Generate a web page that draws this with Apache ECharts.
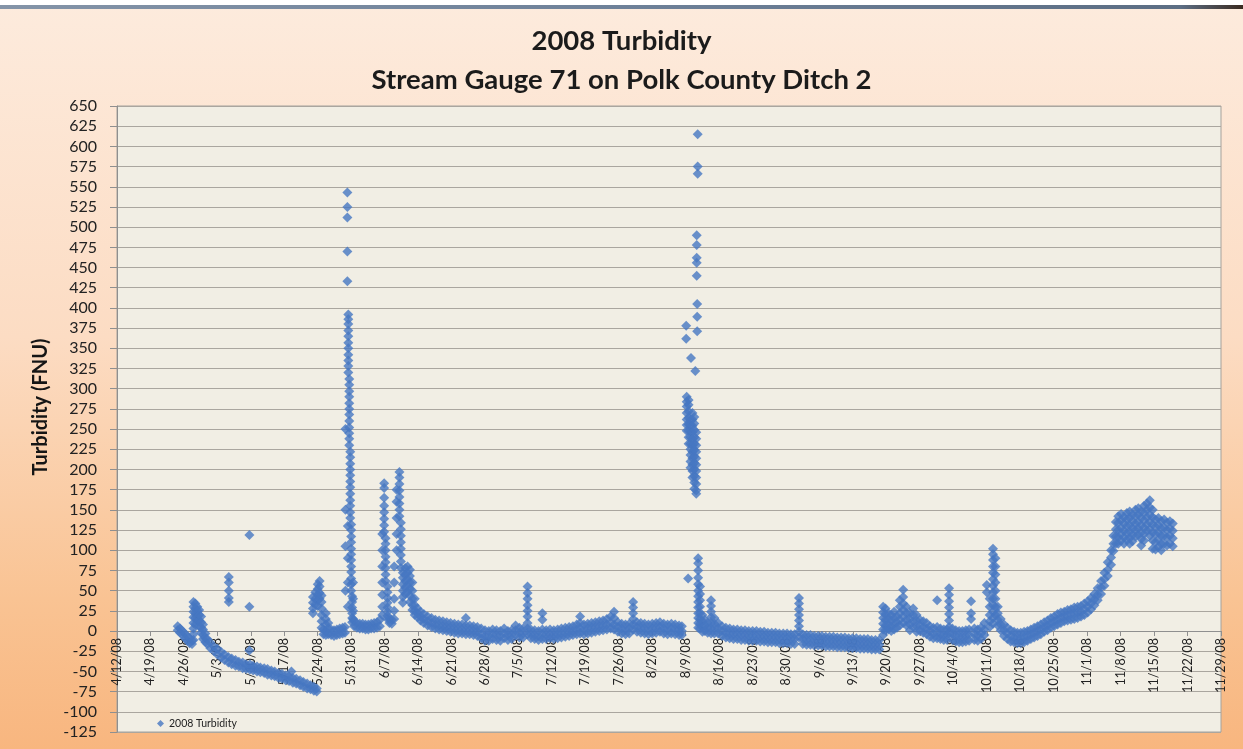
<!DOCTYPE html>
<html>
<head>
<meta charset="utf-8">
<script src="https://cdn.jsdelivr.net/npm/echarts/dist/echarts.min.js"></script>
<style>
  html, body { margin: 0; padding: 0; background: #ffffff; }
  #chart {
    width: 1243px; height: 749px;
    background: linear-gradient(180deg, #fdebdd 0%, #fcdcc3 45%, #f9c393 80%, #f8b67f 100%);
  }
</style>
</head>
<body>
<div id="chart"></div>
<script>
// Week tick labels along the time axis (days counted from 4/12/08).
const weekLabels = [
  '4/12/08', '4/19/08', '4/26/08', '5/3/08', '5/10/08', '5/17/08', '5/24/08', '5/31/08',
  '6/7/08', '6/14/08', '6/21/08', '6/28/08', '7/5/08', '7/12/08', '7/19/08', '7/26/08',
  '8/2/08', '8/9/08', '8/16/08', '8/23/08', '8/30/08', '9/6/08', '9/13/08', '9/20/08',
  '9/27/08', '10/4/08', '10/11/08', '10/18/08', '10/25/08', '11/1/08', '11/8/08',
  '11/15/08', '11/22/08', '11/29/08'
];

// Turbidity readings (FNU). Each row: [day since 4/12/08, readings logged around that time...]
const springReadings = [
  [12.7, 6, 1], [13.2, 3, -2], [13.7, 0, -5], [14.2, -3, -9], [14.7, -6, -12],
  [15.2, -9, -15], [15.7, -12, -16],
  [16.0, 36, 30, 24, 17, 10, 3, -4, -11], [16.4, 34, 28, 22, 16, 8], [16.8, 30, 25, 18, 12],
  [17.2, 26, 20, 13, 6], [17.6, 18, 11, 4, -2], [18.0, 8, 2, -5, -10], [18.5, -3, -9, -14],
  [18.9, -10, -16], [19.5, -14, -21], [20.3, -19, -25], [21.0, -22, -29], [21.8, -26, -33],
  [22.5, -29, -36], [23.3, -32, -39], [23.4, 67, 60, 50, 41, 36], [24.0, -34, -41],
  [24.8, -36, -43], [25.5, -38, -44], [26.3, -39, -46], [27.0, -41, -47],
  [27.7, 119, 30, -24], [27.8, -41, -48], [28.5, -43, -49], [29.3, -44, -50], [30.0, -45, -51],
  [30.8, -46, -52], [31.5, -47, -54], [32.3, -49, -55], [33.0, -50, -56], [33.8, -52, -58],
  [34.5, -53, -59], [35.3, -55, -61], [36.0, -56, -62], [36.5, -50], [36.8, -58, -64],
  [37.5, -59, -65], [38.3, -61, -67], [39.0, -63, -69], [39.8, -65, -71], [40.5, -67, -72],
  [41.2, -69, -74], [41.8, -71, -75]
];

const juneReadings = [
  [41.0, 42, 35, 28, 22], [41.5, 48, 40, 33], [42.0, 58, 52, 45, 38, 31], [42.4, 62, 55, 47, 40],
  [42.8, 44, 36, 28, 20, 12, 4], [43.2, 2, -4], [43.7, 22, 15, 8, 0, -5], [44.2, 10, 3, -4],
  [44.8, 2, -5], [45.4, 1, -6], [46.0, 2, -5], [46.6, 3, -4], [47.2, 4, -3], [47.7, 5, -2],
  [47.8, 250, 150, 105, 50],
  [48.2, 543, 525, 512, 470, 433],
  [48.3, 130, 90, 60, 30],
  [48.4, 392, 386, 380, 372, 365, 357, 350, 342, 335, 328, 320],
  [48.6, 312, 305, 297, 290, 282, 275, 268, 260, 252, 245, 238, 230],
  [48.8, 222, 215, 207, 200, 193, 185, 178, 170, 162, 155, 147, 140],
  [49.0, 132, 125, 117, 110, 102, 95, 88, 80, 73, 65, 58, 50],
  [49.2, 43, 36, 29, 22, 16, 11], [49.4, 60, 40, 25, 15],
  [49.6, 12, 6], [50.2, 10, 4], [50.8, 9, 3], [51.4, 9, 3], [52.0, 8, 2], [52.6, 8, 2],
  [53.2, 9, 3], [53.8, 10, 3], [54.4, 11, 4], [55.0, 14, 6],
  [55.5, 20, 30, 45, 60, 80, 100, 120],
  [55.9, 183, 177, 165, 155, 147, 139, 131, 123],
  [56.2, 115, 108, 100, 92, 85, 78, 70, 62],
  [56.6, 55, 48, 41, 35, 29, 24, 19, 15],
  [57.0, 15, 10], [57.5, 14, 9],
  [58.0, 15, 25, 40, 60, 80], [58.5, 100, 120, 140, 160, 175],
  [59.1, 197, 190, 182, 174, 166, 158, 150, 142],
  [59.4, 134, 126, 118, 110, 102, 94, 86, 78],
  [59.8, 72, 66, 58, 50, 42, 35],
  [60.3, 78, 70, 62, 54, 46], [60.8, 80, 72, 64, 56, 48], [61.3, 76, 68, 60, 52, 44, 36],
  [61.8, 60, 50, 40, 32, 26], [62.3, 40, 32, 25, 20], [62.9, 28, 22, 17], [63.5, 24, 18, 13],
  [64.2, 21, 15, 10], [65.0, 18, 12, 7], [65.8, 16, 10, 5], [66.6, 14, 8, 3], [67.4, 13, 7, 2],
  [68.2, 12, 6, 1], [69.0, 11, 5, 0], [69.8, 10, 4, -1], [70.6, 9, 3, -2], [71.4, 8, 2, -3],
  [72.2, 8, 2, -3], [73.0, 16, 7, 1, -4], [73.8, 7, 1, -4], [74.6, 6, 0, -5], [75.4, 5, -1, -6]
];

const summerReadings = [
  [76.2, 3, -4, -9], [77.0, 1, -6, -12], [77.8, 0, -6, -12], [78.6, 2, -4, -10], [79.4, 1, -5, -11],
  [80.2, 0, -6, -12], [81.0, 3, -3, -9], [81.8, 0, -5, -11], [82.6, 1, -5, -10], [83.4, 7, 1, -5],
  [84.2, 4, -2, -8], [85.0, 3, -3, -8],
  [85.9, 55, 47, 40, 32, 25, 18, 10, 3, -4],
  [86.6, 2, -4, -9], [87.4, 1, -5, -10], [88.2, 0, -6, -11], [89.0, 22, 14, 2, -4, -10],
  [89.8, 1, -5, -10], [90.6, 2, -4, -9], [91.4, 1, -5, -10], [92.2, 2, -4, -9], [93.0, 3, -3, -8],
  [93.8, 4, -2, -7], [94.6, 5, -1, -6], [95.4, 6, 0, -5], [96.2, 8, 2, -4], [96.9, 18, 10, 3, -3],
  [97.7, 8, 2, -4], [98.5, 9, 3, -3], [99.3, 10, 4, -2], [100.1, 11, 5, -1], [100.9, 12, 6, 0],
  [101.7, 13, 7, 1], [102.5, 15, 8, 2], [103.3, 18, 10, 3], [104.0, 24, 16, 8, 2],
  [104.8, 11, 5, -1], [105.6, 9, 3, -3], [106.4, 8, 2, -4], [107.2, 9, 3, -3],
  [108.0, 36, 29, 22, 15, 8, 2],
  [108.8, 11, 5, -1], [109.6, 10, 4, -2], [110.4, 9, 3, -3], [111.2, 8, 2, -4], [112.0, 9, 3, -3],
  [112.8, 10, 4, -2], [113.6, 11, 5, -1], [114.4, 9, 3, -3], [115.2, 8, 2, -4], [116.0, 9, 3, -3],
  [116.8, 8, 2, -4], [117.6, 7, 1, -5], [118.2, 6, 0, -5],
  [119.5, 65],
  [121.5, 615, 575, 566], [121.3, 490, 478, 462, 456, 440], [121.4, 405, 389, 371],
  [119.1, 378, 362], [120.1, 338], [121.0, 322],
  [119.2, 290, 284, 278, 270, 262, 255, 248],
  [119.6, 286, 280, 272, 264, 256, 248, 240, 232],
  [120.0, 262, 255, 247, 240, 232, 225, 218, 210, 202],
  [120.4, 270, 262, 254, 246, 238, 230, 222, 214, 206, 198, 190],
  [120.8, 265, 257, 249, 240, 232, 224, 216, 208, 200, 192, 184, 176],
  [121.2, 246, 238, 230, 222, 214, 206, 198, 190, 182, 174, 170],
  [121.6, 90, 84, 75, 66, 58, 50, 43, 36, 29, 22, 16, 10, 4],
  [122.0, 55, 46, 38, 30, 22, 15, 9, 3], [122.5, 20, 12, 5, -1], [123.0, 14, 7, 0],
  [123.6, 10, 4, -2], [124.3, 38, 31, 24, 17, 10, 3, -3], [125.0, 16, 9, 3, -3],
  [125.8, 10, 3, -3], [126.6, 6, 0, -6], [127.4, 4, -2, -8], [128.2, 3, -3, -9],
  [129.0, 2, -4, -10], [129.8, 2, -4, -10], [130.6, 1, -5, -11], [131.4, 1, -5, -11],
  [132.2, 0, -6, -12], [133.0, 0, -6, -12], [133.8, 0, -6, -12], [134.6, -1, -7, -13],
  [135.4, -1, -7, -13], [136.2, -2, -8, -14], [137.0, -2, -8, -14], [137.8, -2, -8, -14],
  [138.6, -3, -9, -15], [139.4, -3, -9, -15], [140.2, -3, -9, -15], [141.0, -4, -10, -16],
  [141.8, -4, -10, -16], [142.7, 41, 34, 27, 20, 13, 6, -1, -8],
  [143.5, -4, -10, -16], [144.3, -5, -11, -17], [145.1, -5, -11, -17], [145.9, -6, -12, -18],
  [146.7, -6, -12, -18], [147.5, -6, -12, -18], [148.3, -7, -13, -19], [149.1, -7, -13, -19],
  [149.9, -7, -13, -19], [150.7, -8, -14, -20], [151.5, -8, -14, -20], [152.3, -8, -14, -20],
  [153.1, -9, -15, -21], [153.9, -9, -15, -21], [154.7, -9, -15, -21], [155.5, -10, -16, -22],
  [156.3, -10, -16, -22], [157.1, -10, -16, -22], [157.9, -11, -17, -23], [158.7, -11, -17, -23],
  [159.5, -11, -17, -23]
];

const autumnReadings = [
  [160.3, 30, 23, 16, 9, 2, -5], [160.8, 28, 21, 14, 7, 1], [161.4, 22, 15, 8, 2],
  [162.0, 20, 13, 6, 0], [162.6, 24, 16, 9, 2], [163.2, 18, 11, 4], [163.8, 38, 30, 22, 14, 7],
  [164.5, 51, 42, 34, 26, 18, 10], [165.2, 30, 22, 14, 7], [165.9, 22, 15, 8, 1],
  [166.6, 28, 20, 12, 5], [167.3, 20, 13, 6, -1], [168.0, 14, 7, 0], [168.7, 12, 5, -2],
  [169.4, 10, 3, -4], [170.1, 6, 0, -7], [170.8, 4, -3, -9], [171.6, 38, 5, -2, -9],
  [172.3, 3, -4, -10], [173.0, 2, -5, -11], [173.7, 2, -5, -11],
  [174.1, 53, 45, 37, 29, 21, 13, 5, -3],
  [174.8, 3, -4, -11], [175.5, 1, -6, -13], [176.2, 0, -7, -14], [176.9, 0, -7, -14],
  [177.6, 1, -6, -13], [178.3, 2, -5, -12], [178.7, 37, 22, 15], [179.4, 3, -4, -11],
  [180.1, 2, -5, -12], [180.8, 4, -3, -10], [181.5, 10, 2, -5], [182.0, 57, 48],
  [182.6, 40, 30, 20, 12, 5],
  [183.3, 102, 95, 88, 80, 72, 64, 56, 48, 40, 32, 24, 16, 9],
  [183.8, 90, 80, 70, 60, 50, 40, 30, 20],
  [184.3, 30, 22, 14, 7], [184.9, 15, 8, 1], [185.6, 8, 1, -6], [186.3, 4, -3, -10],
  [187.0, 1, -6, -13], [187.7, -1, -8, -14], [188.4, -2, -9, -15], [189.1, -2, -9, -15],
  [189.8, -1, -8, -14], [190.5, 0, -6, -12], [191.2, 2, -4, -10], [191.9, 4, -2, -8],
  [192.6, 6, 0, -6], [193.3, 8, 2, -4], [194.0, 11, 5, -1], [194.7, 13, 7, 1],
  [195.4, 16, 10, 4], [196.1, 18, 12, 6], [196.8, 21, 14, 8], [197.5, 23, 16, 10],
  [198.2, 24, 18, 12], [198.9, 26, 19, 13], [199.6, 27, 21, 14], [200.3, 29, 22, 15],
  [201.0, 30, 23, 16], [201.7, 31, 24, 18], [202.4, 34, 27, 20], [203.1, 37, 30, 23],
  [203.8, 41, 34, 27], [204.5, 46, 39, 32], [205.2, 53, 45, 38], [205.9, 62, 54, 46],
  [206.6, 72, 64, 56], [207.3, 85, 76, 68], [208.0, 100, 91, 82], [208.5, 118, 108, 99],
  [209.0, 135, 126, 117, 108], [209.5, 142, 134, 125, 116, 108], [210.1, 145, 137, 128, 120, 112],
  [210.7, 141, 133, 124, 116, 108], [211.3, 146, 138, 130, 121, 113],
  [211.9, 148, 140, 131, 123, 115, 108], [212.5, 144, 136, 127, 119, 111],
  [213.1, 150, 142, 133, 125, 117], [213.7, 152, 144, 135, 127, 119],
  [214.3, 148, 140, 131, 122, 114, 106], [214.9, 155, 146, 137, 128, 120, 112],
  [215.5, 158, 150, 141, 132, 124], [216.1, 162, 153, 144, 135, 126, 118],
  [216.7, 150, 141, 132, 122, 112, 102], [217.3, 138, 129, 120, 110, 101],
  [217.9, 140, 131, 122, 113, 104], [218.5, 136, 127, 118, 108, 100],
  [219.1, 138, 128, 118, 108], [219.7, 134, 125, 116, 106], [220.3, 136, 127, 118, 108],
  [220.9, 133, 124, 115, 105]
];

// Flatten the logged rows into [day, value] points for the scatter series.
function toPoints(rows) {
  const pts = [];
  rows.forEach(function (row) {
    for (let i = 1; i < row.length; i++) pts.push([row[0], row[i]]);
  });
  return pts;
}
const turbidityPoints = []
  .concat(toPoints(springReadings))
  .concat(toPoints(juneReadings))
  .concat(toPoints(summerReadings))
  .concat(toPoints(autumnReadings));

const FONT = 'Lato, "Open Sans", sans-serif';
const GRID = { left: 117, right: 22, top: 106, bottom: 17 };
const Y_MIN = -125, Y_MAX = 650;
const plotHeight = 749 - GRID.top - GRID.bottom;
// The date axis crosses the value axis at zero, so lift it from the bottom edge.
const zeroLift = plotHeight * (0 - Y_MIN) / (Y_MAX - Y_MIN);

const chart = echarts.init(document.getElementById('chart'), null, { renderer: 'canvas' });

chart.setOption({
  animation: false,
  backgroundColor: 'transparent',
  title: {
    text: '2008 Turbidity\nStream Gauge 71 on Polk County Ditch 2',
    left: 'center',
    top: 17,
    textStyle: {
      fontFamily: FONT, fontSize: 27.5, fontWeight: 'bold', color: '#1b1b1b', lineHeight: 39
    }
  },
  legend: {
    left: 152, top: 713,
    icon: 'diamond', itemWidth: 7, itemHeight: 7, itemGap: 4,
    textStyle: { fontFamily: FONT, fontSize: 10.5, color: '#222' },
    data: ['2008 Turbidity']
  },
  grid: {
    left: GRID.left, right: GRID.right, top: GRID.top, bottom: GRID.bottom,
    containLabel: false, outerBoundsMode: 'none',
    show: true, backgroundColor: '#f1eee4', borderColor: '#a5a29c', borderWidth: 1
  },
  xAxis: {
    type: 'value', min: 0, max: 231, interval: 7,
    position: 'bottom', offset: -zeroLift,
    axisLine: { show: true, onZero: false, lineStyle: { color: '#8f8f8f', width: 1 } },
    axisTick: { show: true, length: 5, lineStyle: { color: '#8f8f8f' } },
    splitLine: { show: false },
    axisLabel: {
      rotate: 90, margin: 7, fontFamily: FONT, fontSize: 12.5, color: '#222',
      formatter: function (v) { return weekLabels[Math.round(v / 7)] || ''; }
    }
  },
  yAxis: {
    type: 'value', min: Y_MIN, max: Y_MAX, interval: 25,
    axisLine: { show: true, lineStyle: { color: '#8f8f8f' } },
    axisTick: { show: true, length: 7, lineStyle: { color: '#8f8f8f' } },
    splitLine: { show: true, lineStyle: { color: '#aaa69f', width: 1 } },
    axisLabel: { margin: 20, fontFamily: FONT, fontSize: 16, color: '#222' }
  },
  series: [{
    name: '2008 Turbidity',
    type: 'scatter',
    symbol: 'diamond',
    symbolSize: 10,
    itemStyle: { color: '#4677c2' },
    data: turbidityPoints
  }],
  graphic: [
    { type: 'rect', shape: { x: 0, y: 0, width: 1243, height: 5 }, style: { fill: '#ffffff' }, z: 100 },
    {
      type: 'rect', shape: { x: 0, y: 5, width: 1243, height: 4 }, z: 100,
      style: {
        fill: new echarts.graphic.LinearGradient(0, 0, 1, 0, [
          { offset: 0, color: '#8494a8' }, { offset: 0.5, color: '#6e8199' },
          { offset: 0.95, color: '#5c6e84' }, { offset: 1, color: '#3a2a20' }
        ])
      }
    },
    {
      type: 'text', x: 41, y: 407, rotation: Math.PI / 2, z: 100,
      style: {
        text: 'Turbidity (FNU)', fontFamily: FONT, fontSize: 20, fontWeight: 'bold',
        fill: '#151515', align: 'center', verticalAlign: 'middle'
      }
    }
  ]
});
</script>
</body>
</html>
